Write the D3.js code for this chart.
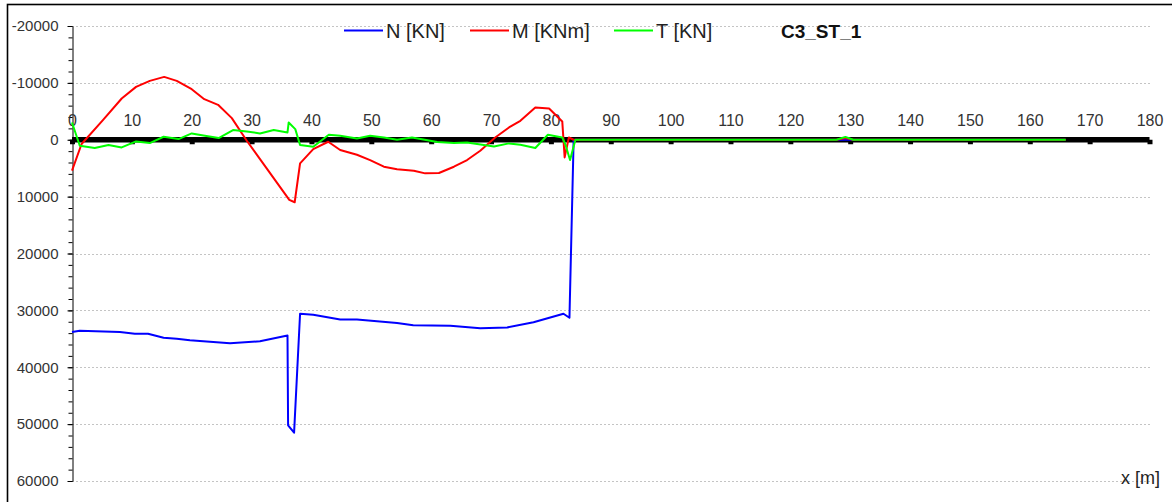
<!DOCTYPE html>
<html>
<head>
<meta charset="utf-8">
<script src="https://cdn.jsdelivr.net/npm/d3@7"></script>
<style>
	body { margin: 0; background: #fff; }
	svg { display: block; font-family: Arial, "Liberation Sans", sans-serif; }
</style>
</head>
<body>
<div id="chart"></div>
<script>
/*********************************************************** DONNEES *****/

// N [KN]
const nX = [0, 1.3, 8, 10.5, 12.7, 15.3, 17.5, 19.7, 26.4, 31.4, 36.0, 36.1, 37.1, 38.1, 40.3, 44.8, 47.6, 54.3, 57.0, 63.2, 68.2, 72.7, 77.1, 82.1, 83.1, 83.8, 166];
const nVal = [33800, 33570, 33800, 34100, 34100, 34800, 35000, 35260, 35800, 35440, 34400, 50200, 51500, 30600, 30750, 31600, 31600, 32200, 32600, 32700, 33150, 33000, 32100, 30600, 31300, 0, 0];

// M [KNm]
const mX = [0, 1.6, 5.2, 8.3, 10.7, 13, 15.4, 17.5, 20, 22.1, 24.4, 26.7, 29.2, 36.3, 37.2, 38.1, 40.3, 42.8, 44.8, 47.6, 49.8, 52.1, 54.3, 57.1, 59.0, 61.3, 63.8, 66.0, 68.2, 70.7, 73.0, 74.9, 77.4, 79.7, 81.9, 82.3, 83.0, 83.8, 127.7, 129.2, 130.5, 166];
const mVal = [5440, 750, -3500, -7250, -9300, -10350, -11050, -10350, -8890, -7130, -6140, -3800, 175, 10580, 10990, 4150, 1640, 350, 1800, 2630, 3570, 4740, 5200, 5440, 5910, 5850, 4740, 3570, 1930, -400, -2160, -3330, -5670, -5500, -3220, 3100, -400, 0, 0, -300, 0, 0];

// T [KN]
const tX = [0, 1.3, 3.8, 6.1, 8.3, 10.7, 13.0, 15.3, 17.8, 20, 22.2, 24.5, 26.9, 29.2, 31.4, 33.7, 36.0, 36.2, 37.3, 38.1, 40.3, 42.9, 44.8, 47.6, 49.8, 52.1, 54.3, 56.8, 58.7, 61.0, 63.8, 66, 68.8, 70.5, 73, 74.9, 77.4, 79.5, 81.9, 82.4, 83.2, 84.1, 127.7, 129.2, 130.5, 166];
const tVal = [-3040, 1050, 1460, 930, 1350, 290, 580, -530, -120, -1110, -700, -290, -1700, -1460, -1110, -1700, -1290, -3040, -1870, 930, 1230, -880, -700, -230, -700, -410, 0, -410, -60, 410, 580, 470, 930, 1170, 640, 880, 1460, -880, -400, 760, 3560, 0, 0, -500, 0, 0];

const seriesNames = ["N [KN]", "M [KNm]", "T [KN]"];
const seriesColors = ["#0000ff", "#ff0000", "#00ff00"];
const chartTitle = "C3_ST_1";
const xLabel = "x [m]";

const xTicks = d3.range(0, 181, 10);
const yMajor = d3.range(-20000, 60001, 10000);
const yMinor = d3.range(-20000, 60001, 2000);

/*********************************************************** CARTE *****/

const width = 1172, height = 502;

const x = d3.scaleLinear().domain([0, 180]).range([72, 1149.5]);
const y = d3.scaleLinear().domain([-20000, 60000]).range([26, 481]);

const svg = d3.select("#chart")
	.append("svg")
	.attr("width", width)
	.attr("height", height);

// cadre
svg.append("rect")
	.attr("x", 7.5).attr("y", 4.5)
	.attr("width", 1200).attr("height", 600)
	.attr("fill", "none")
	.attr("stroke", "#000")
	.attr("stroke-width", 1.6);

// grille
svg.append("g")
	.selectAll("line")
	.data(yMajor)
	.enter()
	.append("line")
	.attr("x1", x(0)).attr("x2", 1150)
	.attr("y1", d => Math.round(y(d)) + 0.5)
	.attr("y2", d => Math.round(y(d)) + 0.5)
	.attr("stroke", "#c4c4c4")
	.attr("stroke-dasharray", "2,2");

// axe Y
const yAxisMinor = svg.append("g")
	.attr("transform", "translate(" + (x(0) + 0.5) + ",0)")
	.call(d3.axisLeft(y).tickValues(yMinor).tickSize(4).tickFormat(""));
yAxisMinor.select(".domain").remove();

const yAxis = svg.append("g")
	.attr("transform", "translate(" + (x(0) + 0.5) + ",0)")
	.call(d3.axisLeft(y).tickValues(yMajor).tickSize(5).tickSizeOuter(0).tickPadding(9).tickFormat(d => String(d)));
yAxis.selectAll("text")
	.style("font-size", "15px")
	.style("font-family", "Arial, 'Liberation Sans', sans-serif")
	.attr("fill", "#333");

// axe X (poutre)
const y0 = y(0);
svg.append("line")
	.attr("x1", x(0)).attr("x2", x(180))
	.attr("y1", y0).attr("y2", y0)
	.attr("stroke", "#000")
	.attr("stroke-width", 5.5);

const xAxis = svg.append("g")
	.attr("transform", "translate(0," + y0 + ")")
	.call(d3.axisBottom(x).tickValues(xTicks).tickSize(4.5).tickSizeOuter(0));
xAxis.select(".domain").remove();
xAxis.selectAll(".tick line")
	.attr("stroke-width", 5);
xAxis.selectAll("text")
	.attr("y", -13.5)
	.attr("dy", 0)
	.style("font-size", "16px")
	.style("font-family", "Arial, 'Liberation Sans', sans-serif")
	.attr("fill", "#333");

// courbes
const line = d3.line()
	.x(d => x(d[0]))
	.y(d => y(d[1]));

const series = [
	d3.zip(nX, nVal),
	d3.zip(mX, mVal),
	d3.zip(tX, tVal)
];

svg.append("g")
	.selectAll("path")
	.data(series)
	.enter()
	.append("path")
	.attr("d", line)
	.attr("fill", "none")
	.attr("stroke", (d, i) => seriesColors[i])
	.attr("stroke-width", 2)
	.attr("stroke-linejoin", "round");

// legende
const legX = [344, 470, 614];
const leg = svg.append("g");
leg.selectAll("line")
	.data(seriesNames)
	.enter()
	.append("line")
	.attr("x1", (d, i) => legX[i]).attr("x2", (d, i) => legX[i] + 39)
	.attr("y1", 30.5).attr("y2", 30.5)
	.attr("stroke", (d, i) => seriesColors[i])
	.attr("stroke-width", 2);
leg.selectAll("text")
	.data(seriesNames)
	.enter()
	.append("text")
	.attr("x", (d, i) => legX[i] + 42)
	.attr("y", 37.5)
	.style("font-size", "20px")
	.attr("fill", "#222")
	.text(d => d);

svg.append("text")
	.attr("x", 781).attr("y", 37.5)
	.style("font-size", "19px")
	.style("font-weight", "bold")
	.attr("fill", "#111")
	.text(chartTitle);

svg.append("text")
	.attr("x", 1121).attr("y", 484)
	.style("font-size", "18px")
	.attr("fill", "#222")
	.text(xLabel);
</script>
</body>
</html>
